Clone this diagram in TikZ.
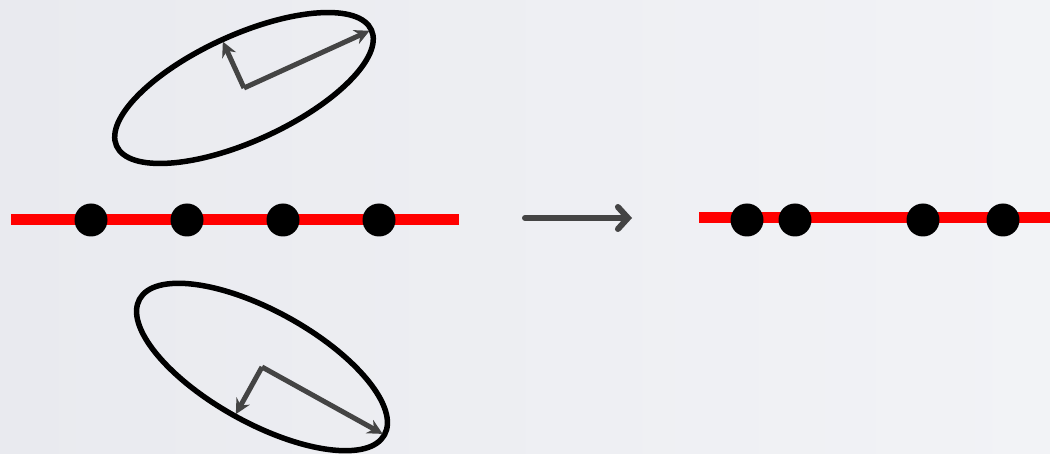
\documentclass[tikz,border=0pt]{standalone}
\usetikzlibrary{arrows.meta,calc}
\definecolor{bgL}{RGB}{233,234,239}
\definecolor{bgR}{RGB}{242,243,246}
\definecolor{arrgray}{RGB}{68,68,68}
\definecolor{redline}{RGB}{255,0,0}
\begin{document}
\begin{tikzpicture}[x=1pt,y=-1pt,
  dot/.style={circle,fill=black,inner sep=0pt,minimum size=33pt},
  redln/.style={draw=redline,line width=11pt},
  ell/.style={draw=black,line width=5.5pt},
  axisarrow/.style={draw=arrgray,line width=5pt,-{Stealth[length=15pt,width=15pt]}},
  bigarrow/.style={draw=arrgray,line width=6pt,line cap=round,-{Straight Barb[length=10pt,width=22pt,line cap=round]}}
]
\shade[left color=bgL,right color=bgR] (0,0) rectangle (1050,454);
\useasboundingbox (0,0) rectangle (1050,454);

% left line with dots
\coordinate (L1) at (11,220);
\coordinate (L2) at (459,220);
\draw[redln] (L1) -- (L2);
\node[dot] (d1) at (91,220) {};
\node[dot] (d2) at (187,220) {};
\node[dot] (d3) at (283,220) {};
\node[dot] (d4) at (379,220) {};

% right line with dots
\coordinate (R1) at (699,218);
\coordinate (R2) at (1050,218);
\draw[redln] (R1) -- (R2);
\node[dot] (e1) at (747,220) {};
\node[dot] (e2) at (795,220) {};
\node[dot] (e3) at (923,220) {};
\node[dot] (e4) at (1003,220) {};

% middle arrow
\coordinate (A1) at (525,218);
\coordinate (A2) at (632,218);
\draw[bigarrow] (A1) -- (A2);

% top ellipse
\coordinate (c1) at (244,88);
\draw[ell] (c1) ellipse[x radius=140pt,y radius=53pt,rotate=24.5];
\coordinate (c1a) at ($(c1)+(24.5:138pt)$);
\coordinate (c1b) at ($(c1)+(114.5:51pt)$);
\draw[axisarrow] (c1) -- (c1a);
\draw[axisarrow] (c1) -- (c1b);

% bottom ellipse
\coordinate (c2) at (262,367);
\draw[ell] (c2) ellipse[x radius=140pt,y radius=56pt,rotate=-29];
\coordinate (c2a) at ($(c2)+(-29:138pt)$);
\coordinate (c2b) at ($(c2)+(-119:54pt)$);
\draw[axisarrow] (c2) -- (c2a);
\draw[axisarrow] (c2) -- (c2b);
\end{tikzpicture}
\end{document}
